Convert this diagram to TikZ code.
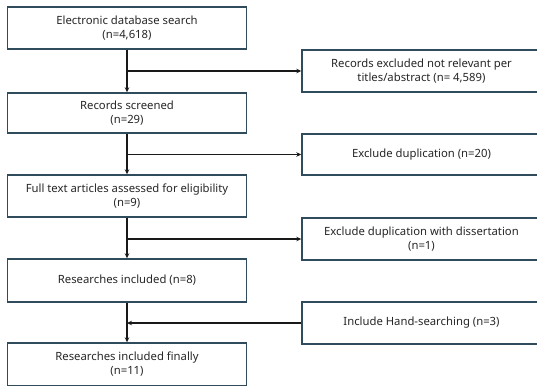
\documentclass[tikz,border=0pt]{standalone}
\usepackage{fontspec}
\setmainfont{Noto Sans}
\usetikzlibrary{arrows.meta}
\definecolor{boxline}{HTML}{2F4B5C}
\begin{document}
\begin{tikzpicture}[x=1pt,y=-1pt,
  box/.style={draw=boxline,line width=1.4pt,fill=white,minimum width=239pt,minimum height=42pt,align=center,font=\fontsize{11.3}{14}\selectfont,text=black!85,inner sep=0pt},
  arr/.style={line width=1.3pt,draw=black!90,-{Stealth[length=5pt,width=4.5pt]}},
  ln/.style={line width=1.3pt,draw=black!90}]
\useasboundingbox (0,0) rectangle (537,385);
\clip (0,0) rectangle (537,385);
\node[box] (b1) at (127,28) {Electronic database search\\(n=4,618)};
\node[box,minimum height=40pt] (b2) at (127,113) {Records screened\\(n=29)};
\node[box] (b3) at (127,196) {Full text articles assessed for eligibility\\(n=9)};
\node[box,minimum height=43pt] (b4) at (127,280.5) {Researches included (n=8)};
\node[box,minimum height=43pt] (b5) at (127,364.5) {Researches included finally\\(n=11)};
\node[box] (r1) at (421.5,71) {Records excluded not relevant per\\titles/abstract (n= 4,589)};
\node[box,minimum height=41pt] (r2) at (421.5,154.5) {Exclude duplication (n=20)};
\node[box] (r3) at (421.5,239) {Exclude duplication with dissertation\\(n=1)};
\node[box] (r4) at (421.5,323) {Include Hand-searching (n=3)};
\draw[arr] (b1) -- (b2);
\draw[arr] (b2) -- (b3);
\draw[arr] (b3) -- (b4);
\draw[arr] (b4) -- (b5);
\coordinate (c1) at (b1.south |- r1.west);
\coordinate (c2) at (b2.south |- r2.west);
\coordinate (c3) at (b3.south |- r3.west);
\coordinate (c4) at (b4.south |- r4.west);
\draw[arr] (c1) -- (r1.west);
\draw[arr] (c2) -- (r2.west);
\draw[arr] (c3) -- (r3.west);
\draw[arr] (r4.west) -- (c4);
\end{tikzpicture}
\end{document}
